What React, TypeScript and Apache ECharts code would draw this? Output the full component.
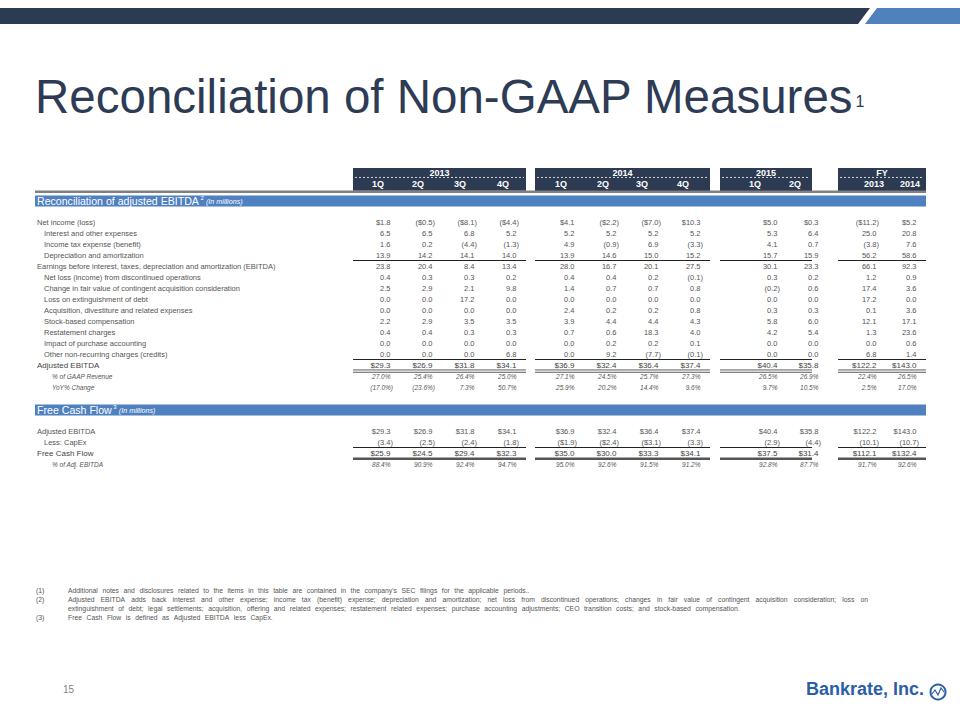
import React, { useEffect, useRef } from "react";
import * as echarts from "echarts";

// ---------- data ----------
const periodGroups = ["2013", "2014", "2015", "FY"];
const periodLabels = ["1Q", "2Q", "3Q", "4Q", "1Q", "2Q", "3Q", "4Q", "1Q", "2Q", "2013", "2014"];
const periodGroupOf = [0, 0, 0, 0, 1, 1, 1, 1, 2, 2, 3, 3];

const netIncome = [1.8, -0.5, -8.1, -4.4, 4.1, -2.2, -7.0, 10.3, 5.0, 0.3, -11.2, 5.2];
const interestExpense = [6.5, 6.5, 6.8, 5.2, 5.2, 5.2, 5.2, 5.2, 5.3, 6.4, 25.0, 20.8];
const incomeTax = [1.6, 0.2, -4.4, -1.3, 4.9, -0.9, 6.9, -3.3, 4.1, 0.7, -3.8, 7.6];
const depreciation = [13.9, 14.2, 14.1, 14.0, 13.9, 14.6, 15.0, 15.2, 15.7, 15.9, 56.2, 58.6];
const ebitda = [23.8, 20.4, 8.4, 13.4, 28.0, 16.7, 20.1, 27.5, 30.1, 23.3, 66.1, 92.3];
const discontinuedOps = [0.4, 0.3, 0.3, 0.2, 0.4, 0.4, 0.2, -0.1, 0.3, 0.2, 1.2, 0.9];
const contingentConsideration = [2.5, 2.9, 2.1, 9.8, 1.4, 0.7, 0.7, 0.8, -0.2, 0.6, 17.4, 3.6];
const debtExtinguishment = [0.0, 0.0, 17.2, 0.0, 0.0, 0.0, 0.0, 0.0, 0.0, 0.0, 17.2, 0.0];
const acquisitionExpenses = [0.0, 0.0, 0.0, 0.0, 2.4, 0.2, 0.2, 0.8, 0.3, 0.3, 0.1, 3.6];
const stockComp = [2.2, 2.9, 3.5, 3.5, 3.9, 4.4, 4.4, 4.3, 5.8, 6.0, 12.1, 17.1];
const restatement = [0.4, 0.4, 0.3, 0.3, 0.7, 0.6, 18.3, 4.0, 4.2, 5.4, 1.3, 23.6];
const purchaseAccounting = [0.0, 0.0, 0.0, 0.0, 0.0, 0.2, 0.2, 0.1, 0.0, 0.0, 0.0, 0.6];
const otherCharges = [0.0, 0.0, 0.0, 6.8, 0.0, 9.2, -7.7, -0.1, 0.0, 0.0, 6.8, 1.4];
const adjustedEbitda = [29.3, 26.9, 31.8, 34.1, 36.9, 32.4, 36.4, 37.4, 40.4, 35.8, 122.2, 143.0];
const pctGaapRevenue = [27.0, 25.4, 26.4, 25.0, 27.1, 24.5, 25.7, 27.3, 26.5, 26.9, 22.4, 26.5];
const yoyChange = [-17.0, -23.6, 7.3, 50.7, 25.9, 20.2, 14.4, 9.6, 9.7, 10.5, 2.5, 17.0];
const capex = [-3.4, -2.5, -2.4, -1.8, -1.9, -2.4, -3.1, -3.3, -2.9, -4.4, -10.1, -10.7];
const capexShowsDollar = [false, false, false, false, true, true, true, false, false, false, false, false];
const freeCashFlow = [25.9, 24.5, 29.4, 32.3, 35.0, 30.0, 33.3, 34.1, 37.5, 31.4, 112.1, 132.4];
const pctAdjEbitda = [88.4, 90.9, 92.4, 94.7, 95.0, 92.6, 91.5, 91.2, 92.8, 87.7, 91.7, 92.6];

const footnotes = [
  ["(1)", "Additional notes and disclosures related to the items in this table are contained in the company's SEC filings for the applicable periods.."],
  ["(2)", "Adjusted EBITDA adds back interest and other expense; income tax (benefit) expense; depreciation and amortization; net loss from discontinued operations; changes in fair value of contingent acquisition consideration; loss on"],
  ["", "extinguishment of debt; legal settlements; acquisition, offering and related expenses; restatement related expenses; purchase accounting adjustments; CEO transition costs; and stock-based compensation."],
  ["(3)", "Free Cash Flow is defined as Adjusted EBITDA less CapEx."],
];

// ---------- layout ----------
const FONT = '"Liberation Sans", Arial, sans-serif';
const NAVY = "#2c3a52";
const BLUE = "#4f80bf";
const TEXT = "#555555";
const COL_RIGHT = [393, 435, 477, 519, 577, 619, 661, 703, 780, 821, 879, 919];
const HEAD_CENTER = [378, 418, 460, 503, 561, 603, 642, 683, 755, 795, 874, 910];
const GROUP_SPAN = [[353, 526], [535, 710], [720, 812], [838, 926]];
const TABLE_LEFT = 35;
const TABLE_RIGHT = 926;
const LEVEL_X = [37, 44, 52];

type Fmt = "usd" | "num" | "pct";
type Row = {
  r: number;
  label: string;
  level?: number;
  values?: number[];
  fmt?: Fmt;
  strong?: boolean;
  italic?: boolean;
  rule?: "single" | "double" | "thick";
  section?: string;
  dollarFlags?: boolean[];
};

const tableRows: Row[] = [
  { r: 0, label: "Reconciliation of adjusted EBITDA", section: "2" },
  { r: 2, label: "Net income (loss)", level: 0, values: netIncome, fmt: "usd" },
  { r: 3, label: "Interest and other expenses", level: 1, values: interestExpense, fmt: "num" },
  { r: 4, label: "Income tax expense (benefit)", level: 1, values: incomeTax, fmt: "num" },
  { r: 5, label: "Depreciation and amortization", level: 1, values: depreciation, fmt: "num", rule: "single" },
  { r: 6, label: "Earnings before interest, taxes, depreciation and amortization (EBITDA)", level: 0, values: ebitda, fmt: "num" },
  { r: 7, label: "Net loss (income) from discontinued operations", level: 1, values: discontinuedOps, fmt: "num" },
  { r: 8, label: "Change in fair value of contingent acquisition consideration", level: 1, values: contingentConsideration, fmt: "num" },
  { r: 9, label: "Loss on extinguishment of debt", level: 1, values: debtExtinguishment, fmt: "num" },
  { r: 10, label: "Acquisition, divestiture and related expenses", level: 1, values: acquisitionExpenses, fmt: "num" },
  { r: 11, label: "Stock-based compensation", level: 1, values: stockComp, fmt: "num" },
  { r: 12, label: "Restatement charges", level: 1, values: restatement, fmt: "num" },
  { r: 13, label: "Impact of purchase accounting", level: 1, values: purchaseAccounting, fmt: "num" },
  { r: 14, label: "Other non-recurring charges (credits)", level: 1, values: otherCharges, fmt: "num", rule: "single" },
  { r: 15, label: "Adjusted EBITDA", level: 0, values: adjustedEbitda, fmt: "usd", strong: true, rule: "double" },
  { r: 16, label: "% of GAAP Revenue", level: 2, values: pctGaapRevenue, fmt: "pct", italic: true },
  { r: 17, label: "YoY% Change", level: 2, values: yoyChange, fmt: "pct", italic: true },
  { r: 19, label: "Free Cash Flow", section: "3" },
  { r: 21, label: "Adjusted EBITDA", level: 0, values: adjustedEbitda, fmt: "usd" },
  { r: 22, label: "Less: CapEx", level: 1, values: capex, fmt: "num", rule: "single", dollarFlags: capexShowsDollar },
  { r: 23, label: "Free Cash Flow", level: 0, values: freeCashFlow, fmt: "usd", strong: true, rule: "thick" },
  { r: 24, label: "% of Adj. EBITDA", level: 2, values: pctAdjEbitda, fmt: "pct", italic: true },
];

let measureCtx: CanvasRenderingContext2D | null = null;
function textWidth(text: string, font: string): number {
  if (!measureCtx) measureCtx = document.createElement("canvas").getContext("2d");
  if (!measureCtx) return text.length * 4;
  measureCtx.font = font;
  return measureCtx.measureText(text).width;
}

function formatValue(v: number, fmt: Fmt, dollar: boolean): string {
  const a = Math.abs(v).toFixed(1);
  if (fmt === "pct") return v < 0 ? `(${a}%)` : `${a}%`;
  const d = fmt === "usd" || dollar ? "$" : "";
  return v < 0 ? `(${d}${a})` : `${d}${a}`;
}

export default function App() {
  const ref = useRef<HTMLDivElement>(null);
  useEffect(() => {
    document.body.style.margin = "0";
    if (!ref.current) return;
    const chart = echarts.init(ref.current, undefined, { renderer: "svg" });

    const parenW = textWidth(")", `7.5px ${FONT}`);

    const renderRow = (params: any, api: any) => {
      const row = tableRows[params.dataIndex];
      const children: any[] = [];
      const y = api.coord([0, row.r])[1];
      if (row.section) {
        const [x0, y0] = api.coord([TABLE_LEFT, row.r - 0.42]);
        const [x1, y1] = api.coord([TABLE_RIGHT, row.r + 0.6]);
        children.push({ type: "rect", shape: { x: x0, y: y0, width: x1 - x0, height: y1 - y0 }, style: { fill: BLUE } });
        const lx = api.coord([LEVEL_X[0], row.r])[0];
        const cy = (y0 + y1) / 2;
        const tFont = `10.6px ${FONT}`;
        const w = textWidth(row.label, tFont);
        children.push({ type: "text", x: lx, y: cy, style: { text: row.label, fill: "#ffffff", font: tFont, align: "left", verticalAlign: "middle" } });
        children.push({ type: "text", x: lx + w + 1.5, y: cy - 3, style: { text: row.section, fill: "#ffffff", font: `6px ${FONT}`, align: "left", verticalAlign: "middle" } });
        children.push({ type: "text", x: lx + w + 7, y: cy + 0.5, style: { text: "(In millions)", fill: "#ffffff", font: `italic 7.2px ${FONT}`, align: "left", verticalAlign: "middle" } });
        return { type: "group", children };
      }
      const level = row.level || 0;
      const lx = api.coord([LEVEL_X[level], row.r])[0];
      const labelFont = row.italic ? `italic 6.5px ${FONT}` : row.strong ? `8px ${FONT}` : `7.5px ${FONT}`;
      const valueFont = row.italic ? `italic 6.5px ${FONT}` : row.strong ? `8px ${FONT}` : `7.5px ${FONT}`;
      const color = row.strong ? "#444444" : TEXT;
      children.push({ type: "text", x: lx, y, style: { text: row.label, fill: color, font: labelFont, align: "left", verticalAlign: "middle" } });
      (row.values || []).forEach((v, i) => {
        const xr = api.coord([COL_RIGHT[i], row.r])[0];
        const txt = formatValue(v, row.fmt || "num", !!(row.dollarFlags && row.dollarFlags[i]));
        const x = v < 0 ? xr : xr - parenW;
        children.push({ type: "text", x, y, style: { text: txt, fill: color, font: valueFont, align: "right", verticalAlign: "middle" } });
      });
      if (row.rule) {
        GROUP_SPAN.forEach(([a, b]) => {
          const x0 = api.coord([a, row.r])[0];
          const x1 = api.coord([b, row.r])[0];
          if (row.rule === "single") {
            const yy = api.coord([a, row.r + 0.5])[1];
            children.push({ type: "line", shape: { x1: x0, y1: yy, x2: x1, y2: yy }, style: { stroke: "#222222", lineWidth: 1 } });
          } else if (row.rule === "double") {
            const ya = api.coord([a, row.r + 0.45])[1];
            const yb = api.coord([a, row.r + 0.66])[1];
            children.push({ type: "line", shape: { x1: x0, y1: ya, x2: x1, y2: ya }, style: { stroke: "#333333", lineWidth: 0.8 } });
            children.push({ type: "line", shape: { x1: x0, y1: yb, x2: x1, y2: yb }, style: { stroke: "#333333", lineWidth: 0.8 } });
          } else {
            const yy = api.coord([a, row.r + 0.52])[1];
            children.push({ type: "line", shape: { x1: x0, y1: yy, x2: x1, y2: yy }, style: { stroke: "#555555", lineWidth: 2.5 } });
          }
        });
      }
      return { type: "group", children };
    };

    const renderHeader = (params: any, api: any) => {
      const g = params.dataIndex;
      const [a, b] = GROUP_SPAN[g];
      const children: any[] = [];
      const [x0, y0] = api.coord([a, -2.9]);
      const [x1, y1] = api.coord([b, -0.85]);
      children.push({ type: "rect", shape: { x: x0, y: y0, width: x1 - x0, height: y1 - y0 }, style: { fill: NAVY } });
      const yd = api.coord([a, -2.05])[1];
      children.push({ type: "line", shape: { x1: x0 + 2, y1: yd, x2: x1 - 2, y2: yd }, style: { stroke: "#ffffff", lineWidth: 0.8, lineDash: [2, 2] } });
      const yt = api.coord([a, -2.5])[1];
      children.push({ type: "text", x: (x0 + x1) / 2, y: yt, style: { text: periodGroups[g], fill: "#ffffff", font: `bold 9px ${FONT}`, align: "center", verticalAlign: "middle" } });
      const yq = api.coord([a, -1.45])[1];
      periodLabels.forEach((lab, i) => {
        if (periodGroupOf[i] !== g) return;
        const xc = api.coord([HEAD_CENTER[i], -1.45])[0];
        children.push({ type: "text", x: xc, y: yq, style: { text: lab, fill: "#ffffff", font: `bold 9px ${FONT}`, align: "center", verticalAlign: "middle" } });
      });
      if (g === 0) {
        const [gx0, gy] = api.coord([TABLE_LEFT, -0.75]);
        const gx1 = api.coord([TABLE_RIGHT, -0.75])[0];
        children.push({ type: "line", shape: { x1: gx0, y1: gy, x2: gx1, y2: gy }, style: { stroke: "#808080", lineWidth: 2.5 } });
      }
      return { type: "group", children };
    };

    // footnotes (justify line 2)
    const fnFont = `6.8px ${FONT}`;
    const fnElems: any[] = [];
    const fnY = [590, 599, 608, 617];
    footnotes.forEach(([num, txt], i) => {
      if (num) fnElems.push({ type: "text", x: 36, y: fnY[i], style: { text: num, fill: TEXT, font: fnFont, verticalAlign: "middle" } });
      const words = txt.split(" ");
      const widths = words.map((w) => textWidth(w, fnFont));
      const total = widths.reduce((s, w) => s + w, 0);
      const gap = i === 1 ? (868 - 68 - total) / (words.length - 1) : textWidth(" ", fnFont) * 2.4;
      let x = 68;
      words.forEach((w, k) => {
        fnElems.push({ type: "text", x, y: fnY[i], style: { text: w, fill: TEXT, font: fnFont, verticalAlign: "middle" } });
        x += widths[k] + gap;
      });
    });

    const titleFont = `47.5px ${FONT}`;
    const titleText = "Reconciliation of Non-GAAP Measures";
    const titleW = textWidth(titleText, titleFont);

    chart.setOption({
      animation: false,
      grid: { left: 0, right: 0, top: 0, bottom: 0, containLabel: false },
      xAxis: { type: "value", min: 0, max: 960, show: false },
      yAxis: { type: "value", inverse: true, min: -200 / 11, max: 520 / 11, show: false },
      graphic: [
        { type: "polygon", shape: { points: [[0, 8], [870, 8], [858, 24], [0, 24]] }, style: { fill: NAVY } },
        { type: "polygon", shape: { points: [[877, 8], [960, 8], [960, 24], [865, 24]] }, style: { fill: "#4f81bd" } },
        { type: "text", x: 35, y: 96, style: { text: titleText, fill: "#2e3b55", font: titleFont, verticalAlign: "middle" } },
        { type: "text", x: 35 + titleW + 2, y: 101, style: { text: "1", fill: "#2e3b55", font: `16px ${FONT}`, verticalAlign: "middle" } },
        ...fnElems,
        { type: "text", x: 63, y: 689, style: { text: "15", fill: "#808080", font: `10px ${FONT}`, verticalAlign: "middle" } },
        { type: "text", x: 806, y: 689, style: { text: "Bankrate, Inc.", fill: "#2a5ea8", font: `bold 18px ${FONT}`, verticalAlign: "middle" } },
        { type: "circle", shape: { cx: 938, cy: 692, r: 7.5 }, style: { fill: "#ffffff", stroke: "#2a5ea8", lineWidth: 2 } },
        { type: "polyline", shape: { points: [[932, 694], [935, 690], [938, 695], [941, 688], [944, 692]] }, style: { fill: "none", stroke: "#2a5ea8", lineWidth: 1.2 } },
      ],
      series: [
        {
          type: "custom",
          coordinateSystem: "cartesian2d",
          silent: true,
          clip: false,
          data: periodGroups.map((_, i) => [0, i]),
          renderItem: renderHeader,
        },
        {
          type: "custom",
          coordinateSystem: "cartesian2d",
          silent: true,
          clip: false,
          data: tableRows.map((r) => [0, r.r]),
          renderItem: renderRow,
        },
      ],
    });
    return () => chart.dispose();
  }, []);
  return <div ref={ref} style={{ width: 960, height: 720, background: "#ffffff" }} />;
}
